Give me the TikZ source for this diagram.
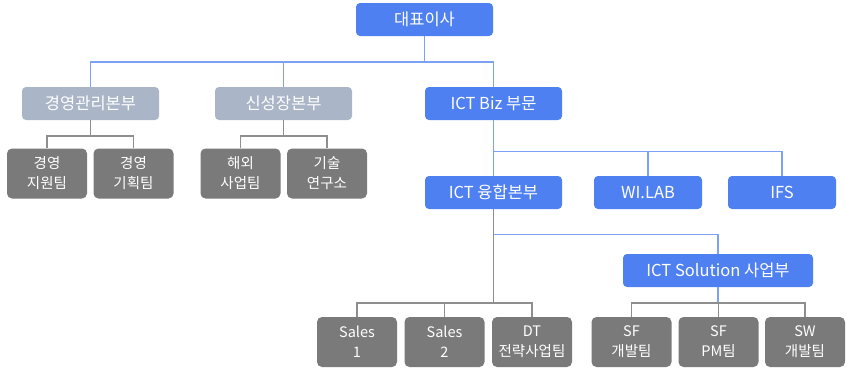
\documentclass[tikz,border=0pt]{standalone}
\usepackage{fontspec}
\setmainfont{Noto Sans CJK KR}
\usetikzlibrary{positioning}

\definecolor{bizblue}{HTML}{4F80F2}
\definecolor{staffgray}{HTML}{AAB5C8}
\definecolor{teamgray}{HTML}{7A7A7A}
\definecolor{lineblue}{HTML}{7DA2F5}
\definecolor{linegray}{HTML}{8E8E8E}

\begin{document}
\begin{tikzpicture}[x=1pt, y=-1pt,
        unit/.style={rectangle, rounded corners=4pt, minimum height=33pt, inner sep=0pt, text=white, font=\fontsize{16.5}{19}\selectfont},
        team/.style={rectangle, rounded corners=5pt, fill=teamgray, minimum width=80pt, minimum height=50pt, inner sep=0pt, text=white, align=center, font=\fontsize{14.5}{20}\selectfont},
        blueline/.style={draw=lineblue, line width=1.2pt},
        grayline/.style={draw=linegray, line width=1.1pt}]
        \useasboundingbox (0,0) rectangle (846,372);

        % top level
        \node (ceo) [unit, fill=bizblue, minimum width=137pt] at (424.5,19.5) {대표이사};
        \node (mgmt) [unit, fill=staffgray, minimum width=137pt] at (90.5,103.5) {경영관리본부};
        \node (growth) [unit, fill=staffgray, minimum width=137pt] at (283.5,103.5) {신성장본부};
        \node (ictbiz) [unit, fill=bizblue, minimum width=137pt] at (493.5,103.5) {ICT Biz 부문};

        % teams under the staff units
        \node (support) [team] at (47,173.5) {경영\\지원팀};
        \node (planning) [team] at (133.5,173.5) {경영\\기획팀};
        \node (overseas) [team] at (240.5,173.5) {해외\\사업팀};
        \node (lab) [team] at (327,173.5) {기술\\연구소};

        % ICT Biz
        \node (fusion) [unit, fill=bizblue, minimum width=137pt] at (493.5,192.5) {ICT 융합본부};
        \node (wilab) [unit, fill=bizblue, minimum width=108pt] at (648,192.5) {WI.LAB};
        \node (ifs) [unit, fill=bizblue, minimum width=108pt] at (782,192.5) {IFS};
        \node (solution) [unit, fill=bizblue, minimum width=190pt] at (718,270.5) {ICT Solution 사업부};

        \node (sales1) [team] at (357,342) {Sales\\1};
        \node (sales2) [team] at (444.5,342) {Sales\\2};
        \node (dt) [team] at (532,342) {DT\\전략사업팀};
        \node (sfdev) [team] at (631.5,342) {SF\\개발팀};
        \node (sfpm) [team] at (718.5,342) {SF\\PM팀};
        \node (swdev) [team] at (805,342) {SW\\개발팀};

        \coordinate (topbus) at (0,62);
        \coordinate (staffbus) at (0,136);
        \coordinate (bizbus) at (0,151.5);
        \coordinate (solbus) at (0,234.5);
        \coordinate (teambus) at (0,303);

        \draw[blueline] (ceo.south) -- (ceo.south |- topbus);
        \draw[blueline] (mgmt.north) -- (mgmt.north |- topbus) -| (ictbiz.north);
        \draw[blueline] (growth.north) -- (growth.north |- topbus);

        \draw[grayline] (mgmt.south) -- (mgmt.south |- staffbus);
        \draw[grayline] (support.north) -- (support.north |- staffbus) -| (planning.north);
        \draw[grayline] (growth.south) -- (growth.south |- staffbus);
        \draw[grayline] (overseas.north) -- (overseas.north |- staffbus) -| (lab.north);

        \draw[blueline] (ictbiz.south) -- (fusion.north);
        \draw[blueline] (ictbiz.south |- bizbus) -| (ifs.north);
        \draw[blueline] (wilab.north) -- (wilab.north |- bizbus);

        \draw[grayline] (fusion.south) -- (fusion.south |- teambus);
        \draw[blueline] (fusion.south |- solbus) -| (solution.north);
        \draw[grayline] (sales1.north) -- (sales1.north |- teambus) -| (dt.north);
        \draw[grayline] (sales2.north) -- (sales2.north |- teambus);

        \draw[blueline] (solution.south) -- (solution.south |- teambus);
        \draw[grayline] (sfdev.north) -- (sfdev.north |- teambus) -| (swdev.north);
        \draw[grayline] (sfpm.north) -- (sfpm.north |- teambus);
\end{tikzpicture}
\end{document}
